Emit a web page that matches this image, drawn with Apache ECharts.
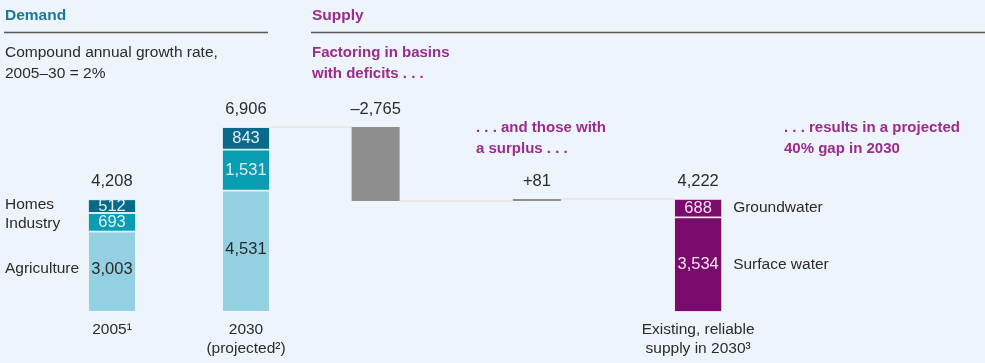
<!DOCTYPE html>
<html><head><meta charset="utf-8">
<script src="https://cdn.jsdelivr.net/npm/echarts@6/dist/echarts.min.js"></script>
<style>html,body{margin:0;padding:0;background:#EEF4FB}#c{width:985px;height:363px}</style>
</head><body><div id="c"></div>
<script>
// Demand (million m3)
const demandCats = ['2005\u00B9', '2030\n(projected\u00B2)'];
const agriculture = [3003, 4531];
const industry = [693, 1531];
const homes = [512, 843];
const demandTotals = [4208, 6906];
// Supply
const supplyCats = ['deficits', 'surplus', 'Existing, reliable\nsupply in 2030\u00B3'];
const deficitBasins = -2765;
const surplusBasins = 81;
const surfaceWater = 3534;
const groundwater = 688;
const supplyTotal = 4222;

const FONT = "'Liberation Sans',Arial,Helvetica,sans-serif";
const fmt = v => v.toLocaleString('en-US');
const BW = 48;
const NUM = 16.5, TXT = 15.5;

const after2030 = demandTotals[1] + deficitBasins;
const baseVals = [after2030, after2030, '-'];
const stepVals = [-deficitBasins, surplusBasins, '-'];

const chart = echarts.init(document.getElementById('c'), null, {renderer: 'canvas'});
const yAx = (gi) => ({gridIndex: gi, type: 'value', min: 0, max: 7000, show: false});
const xAxCommon = {type: 'category', axisLine: {show: false}, axisTick: {show: false},
  axisLabel: {fontFamily: FONT, fontSize: TXT, color: '#2b2b2b', lineHeight: 19, margin: 8, verticalAlign: 'top'}};

const inLbl = (color) => ({show: true, position: 'inside', fontFamily: FONT, fontSize: NUM, color: color, formatter: p => fmt(p.value)});
const segStyle = (c) => ({color: c, borderColor: '#ffffff', borderWidth: 0.8});

const option = {
  backgroundColor: '#EEF4FB',
  animation: false,
  grid: [
    {left: 45, width: 268, top: 124.5, bottom: 51},
    {left: 295, width: 483.75, top: 124.5, bottom: 51}
  ],
  xAxis: [
    Object.assign({gridIndex: 0, data: demandCats}, xAxCommon),
    Object.assign({gridIndex: 1, data: supplyCats}, xAxCommon, {axisLabel: Object.assign({}, xAxCommon.axisLabel, {formatter: (v, i) => i === 2 ? v : ''})})
  ],
  yAxis: [yAx(0), yAx(1)],
  series: [
    {name: 'Agriculture', type: 'bar', stack: 'd', xAxisIndex: 0, yAxisIndex: 0, barWidth: BW, data: agriculture, itemStyle: segStyle('#93D1E2'), label: Object.assign(inLbl('#2b2b2b'), {offset: [0, -2]})},
    {name: 'Industry', type: 'bar', stack: 'd', xAxisIndex: 0, yAxisIndex: 0, barWidth: BW, data: industry, itemStyle: segStyle('#0A9CB2'), label: inLbl('#DDF0F6')},
    {name: 'Homes', type: 'bar', stack: 'd', xAxisIndex: 0, yAxisIndex: 0, barWidth: BW, data: homes, itemStyle: segStyle('#086A88'), label: inLbl('#DDF0F6')},
    {name: 'dtotal', type: 'bar', stack: 'd', xAxisIndex: 0, yAxisIndex: 0, barWidth: BW, data: demandTotals.map(() => 0),
      label: {show: true, position: 'top', distance: 9, fontFamily: FONT, fontSize: NUM, color: '#2b2b2b', formatter: p => fmt(demandTotals[p.dataIndex])}},
    {name: 'base', type: 'bar', stack: 's', xAxisIndex: 1, yAxisIndex: 1, barWidth: BW, data: baseVals, itemStyle: {color: 'transparent'}, silent: true},
    {name: 'change', type: 'bar', stack: 's', xAxisIndex: 1, yAxisIndex: 1, barWidth: BW, data: stepVals, itemStyle: {color: '#8E8E8E'},
      label: {show: true, position: 'top', distance: 9, fontFamily: FONT, fontSize: NUM, color: '#2b2b2b',
        formatter: p => p.dataIndex === 0 ? '\u2013' + fmt(-deficitBasins) : '+' + fmt(surplusBasins)}},
    {name: 'Surface water', type: 'bar', stack: 's', xAxisIndex: 1, yAxisIndex: 1, barWidth: BW, data: ['-', '-', surfaceWater], itemStyle: segStyle('#7A0B6C'), label: inLbl('#F3E1EF')},
    {name: 'Groundwater', type: 'bar', stack: 's', xAxisIndex: 1, yAxisIndex: 1, barWidth: BW, data: ['-', '-', groundwater], itemStyle: segStyle('#7A0B6C'), label: inLbl('#F3E1EF')},
    {name: 'stotal', type: 'bar', stack: 's', xAxisIndex: 1, yAxisIndex: 1, barWidth: BW, data: ['-', '-', 0],
      label: {show: true, position: 'top', distance: 9, fontFamily: FONT, fontSize: NUM, color: '#2b2b2b', formatter: () => fmt(supplyTotal)}}
  ]
};
chart.setOption(option);

const px = (gi, cat, v) => chart.convertToPixel({gridIndex: gi}, [cat, v]);
const txt = (x, y, text, o) => ({type: 'text', x: x, y: y, style: Object.assign({text: text, fontFamily: FONT, fontSize: TXT, fill: '#2b2b2b', verticalAlign: 'middle', align: 'left'}, o || {})});
const line = (x1, y1, x2, y2, stroke, w) => ({type: 'line', shape: {x1, y1, x2, y2}, style: {stroke, lineWidth: w}, z: 1});

const TEAL = '#1B7899', PURP = '#9C2B8C';
const g = [];
g.push(txt(5, 16, 'Demand', {fontWeight: 'bold', fontSize: 15.5, fill: TEAL}));
g.push(txt(312, 16, 'Supply', {fontWeight: 'bold', fontSize: 15.5, fill: PURP}));
g.push(line(4, 32.5, 268, 32.5, '#5a5a5a', 1.5));
g.push(line(311, 32.5, 985, 32.5, '#5a5a5a', 1.5));
g.push(txt(5, 42, 'Compound annual growth rate,\n2005\u201330 = 2%', {lineHeight: 21, verticalAlign: 'top'}));
g.push(txt(312, 42, 'Factoring in basins\nwith deficits . . .', {fontWeight: 'bold', fontSize: 15, fill: PURP, lineHeight: 21, verticalAlign: 'top'}));
g.push(txt(476, 117, '. . . and those with\na surplus . . .', {fontWeight: 'bold', fontSize: 15, fill: PURP, lineHeight: 21, verticalAlign: 'top'}));
g.push(txt(784, 117, '. . . results in a projected\n40% gap in 2030', {fontWeight: 'bold', fontSize: 15, fill: PURP, lineHeight: 21, verticalAlign: 'top'}));

// category labels beside 2005 stack
const mid = (gi, cat, lo, hi) => px(gi, cat, (lo + hi) / 2)[1];
g.push(txt(5, mid(0, 0, agriculture[0] + industry[0], demandTotals[0]) - 1, 'Homes'));
g.push(txt(5, mid(0, 0, agriculture[0], agriculture[0] + industry[0]) + 1, 'Industry'));
g.push(txt(5, mid(0, 0, 0, agriculture[0]) - 3, 'Agriculture'));
const sx = px(1, 2, 0)[0] + BW / 2 + 11;
g.push(txt(sx, mid(1, 2, surfaceWater, supplyTotal), 'Groundwater'));
g.push(txt(sx, mid(1, 2, 0, surfaceWater), 'Surface water'));

// connectors
const LC = '#E6E0CC';
const p1a = px(0, 1, demandTotals[1]), p1b = px(1, 0, demandTotals[1]);
g.push(line(p1a[0] + BW / 2, p1a[1], p1b[0] - BW / 2, p1b[1], LC, 1.2));
const p2a = px(1, 0, after2030), p2b = px(1, 1, after2030);
g.push(line(p2a[0] + BW / 2, p2a[1], p2b[0] - BW / 2, p2b[1], LC, 1.2));
const p3a = px(1, 1, supplyTotal), p3b = px(1, 2, supplyTotal);
g.push(line(p3a[0] + BW / 2, p3a[1], p3b[0] - BW / 2, p3b[1], LC, 1.2));

chart.setOption({graphic: g});
</script></body></html>
